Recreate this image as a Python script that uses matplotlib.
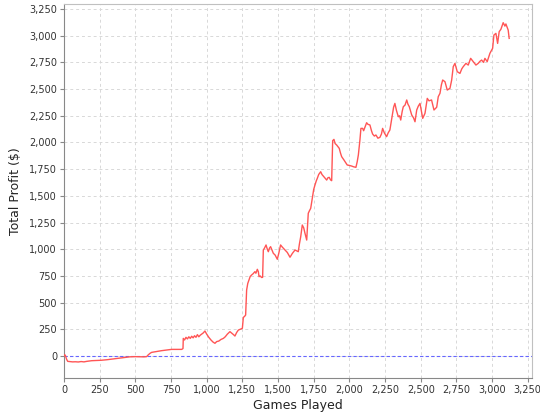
#!/usr/bin/env python3
"""Cumulative profit over games played."""

import matplotlib
matplotlib.use("Agg")
import matplotlib.pyplot as plt
from matplotlib.ticker import MultipleLocator, FuncFormatter

# values
games = [
    0, 5, 10, 18, 26, 40, 60, 80, 100, 120, 140, 160, 194, 230, 260, 300, 340, 370,
    404, 430, 460, 497, 530, 560, 579, 590, 603, 614, 640, 684, 720, 754, 790, 825,
    834, 836, 845, 855, 865, 875, 885, 895, 905, 915, 925, 935, 945, 955, 965, 975,
    988, 1000, 1015, 1030, 1045, 1058, 1070, 1085, 1100, 1117, 1130, 1145, 1163, 1175,
    1188, 1198, 1210, 1222, 1235, 1250, 1257, 1265, 1273, 1280, 1288, 1296, 1305, 1315,
    1325, 1338, 1345, 1355, 1362, 1367, 1375, 1385, 1392, 1397, 1405, 1416, 1425, 1432,
    1440, 1448, 1458, 1467, 1480, 1495, 1505, 1518, 1530, 1549, 1565, 1584, 1600, 1619,
    1630, 1642, 1650, 1659, 1670, 1680, 1689, 1701, 1712, 1720, 1729, 1742, 1750, 1759,
    1768, 1775, 1785, 1799, 1808, 1817, 1830, 1841, 1850, 1859, 1868, 1876, 1883, 1892,
    1900, 1911, 1920, 1929, 1938, 1946, 1955, 1962, 1975, 1985, 2000, 2016, 2030, 2046,
    2055, 2063, 2074, 2081, 2093, 2100, 2109, 2121, 2130, 2144, 2155, 2163, 2175, 2186,
    2200, 2214, 2225, 2233, 2245, 2261, 2272, 2284, 2293, 2303, 2310, 2319, 2330, 2343,
    2352, 2360, 2370, 2378, 2390, 2402, 2410, 2420, 2437, 2450, 2460, 2472, 2483, 2495,
    2500, 2514, 2530, 2546, 2558, 2576, 2593, 2612, 2623, 2635, 2645, 2654, 2670, 2686,
    2705, 2717, 2728, 2740, 2756, 2775, 2788, 2798, 2817, 2833, 2850, 2868, 2887, 2903,
    2915, 2927, 2940, 2950, 2966, 2985, 3004, 3013, 3027, 3039, 3050, 3062, 3078, 3090,
    3097, 3113, 3120,
]
profit = [
    0, 12, 5, -30, -50, -52, -55, -54, -56, -52, -55, -50, -44, -42, -40, -35, -28, -22,
    -16, -12, -8, -6, -7, -8, -6, 10, 25, 34, 40, 50, 56, 62, 62, 62,
    70, 165, 150, 175, 160, 180, 165, 185, 170, 190, 175, 200, 180, 195, 205, 215,
    234, 205, 175, 150, 130, 119, 135, 140, 155, 165, 180, 205, 228, 215,
    200, 187, 220, 243, 250, 259, 362, 370, 384, 618, 680, 712, 745, 759,
    770, 790, 775, 812, 790, 743, 750, 735, 737, 993, 1010, 1040, 1000, 977,
    1010, 1024, 990, 962, 945, 906, 960, 1040, 1020, 993, 970, 925, 960, 993,
    985, 977, 1050, 1117, 1227, 1200, 1149, 1086, 1337, 1360, 1383, 1492, 1560, 1602,
    1640, 1663, 1700, 1726, 1700, 1686, 1665, 1648, 1670, 1673, 1650, 1642, 2017, 2029,
    1990, 1976, 1960, 1945, 1900, 1867, 1850, 1836, 1810, 1789, 1785, 1779, 1772, 1767,
    1820, 1883, 2023, 2132, 2132, 2110, 2141, 2185, 2170, 2164, 2110, 2079, 2060, 2070,
    2040, 2048, 2080, 2132, 2090, 2054, 2090, 2117, 2190, 2273, 2330, 2366, 2300, 2241,
    2250, 2210, 2290, 2335, 2350, 2398, 2360, 2335, 2257, 2230, 2194, 2304, 2340, 2366,
    2330, 2226, 2273, 2413, 2390, 2398, 2304, 2330, 2429, 2460, 2540, 2585, 2569, 2491,
    2507, 2585, 2710, 2741, 2663, 2647, 2690, 2710, 2741, 2725, 2788, 2757, 2725, 2741,
    2760, 2772, 2750, 2788, 2757, 2835, 2882, 3006, 3022, 2928, 3038, 3060, 3122, 3090,
    3110, 3053, 2975,
]

GRID = "#d8d8d8"
AXIS = "#888888"

fig = plt.figure(figsize=(5.4, 4.2), dpi=100)
ax = fig.add_axes([0.1185, 0.1, 0.8667, 0.8905])

ax.plot(games, profit, color="#ff5555", linewidth=1.0, zorder=3)
ax.axhline(0, color="#6666ff", linewidth=0.8, linestyle=(0, (3, 2)), zorder=2)

ax.set_xlim(0, 3280)
ax.set_ylim(-206, 3297)
ax.xaxis.set_major_locator(MultipleLocator(250))
ax.yaxis.set_major_locator(MultipleLocator(250))
fmt = FuncFormatter(lambda v, p: f"{int(round(v)):,}")
ax.xaxis.set_major_formatter(fmt)
ax.yaxis.set_major_formatter(fmt)

ax.grid(True, color=GRID, linestyle=(0, (3, 3)), linewidth=0.7)
ax.set_axisbelow(True)
for s in ["top", "right"]:
    ax.spines[s].set_color("#c0c0c0")
for s in ["left", "bottom"]:
    ax.spines[s].set_color(AXIS)
ax.tick_params(colors=AXIS, labelcolor="#333333", labelsize=7, length=3, width=0.8, pad=2)

ax.set_xlabel("Games Played", fontsize=9, color="#222222", labelpad=3)
ax.set_ylabel("Total Profit ($)", fontsize=9, color="#222222", labelpad=5)

fig.savefig("out.png", dpi=100)
plt.close(fig)
